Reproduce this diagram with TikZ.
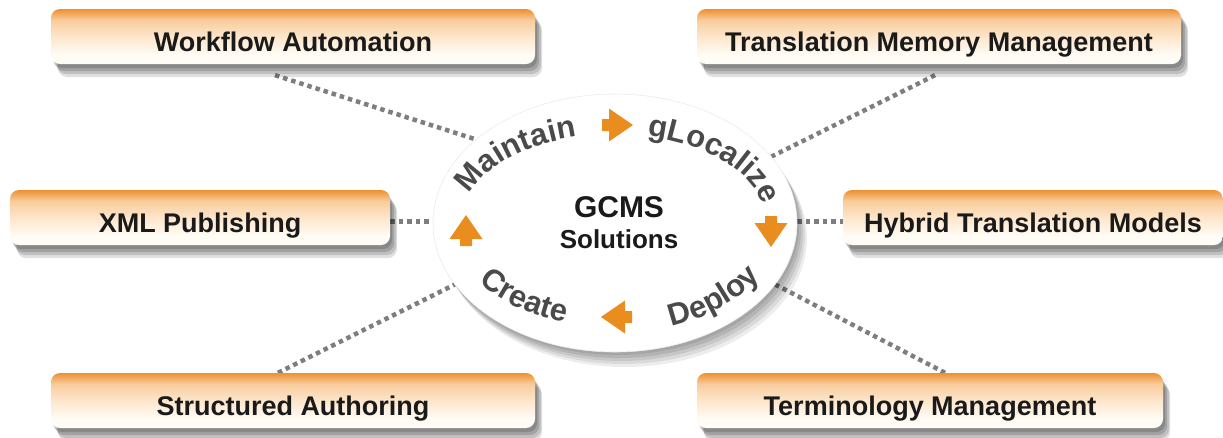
\documentclass[tikz,border=0pt]{standalone}
\usepackage{fontspec}
\setmainfont{Liberation Sans}
\usetikzlibrary{shapes.geometric,decorations.text,calc,shadows}
\definecolor{boxtop}{HTML}{EE9030}
\definecolor{boxlight}{HTML}{F8CC9C}
\definecolor{boxmid}{HTML}{FDE6CB}
\definecolor{boxbot}{HTML}{FFFCF6}
\definecolor{boxtext}{HTML}{1A1A1A}
\definecolor{arcgray}{HTML}{4A4A4A}
\definecolor{linegray}{HTML}{7E7E7E}
\definecolor{arroworange}{HTML}{EA8D1F}
\pgfdeclareverticalshading{boxshade}{100bp}{color(0bp)=(boxbot); color(25bp)=(boxbot); color(33bp)=(boxbot); color(50bp)=(boxmid); color(65bp)=(boxlight); color(75bp)=(boxtop); color(100bp)=(boxtop)}
\pgfdeclarelayer{bg}
\pgfsetlayers{bg,main}
\newcommand\arcfont{\fontsize{31}{33}\selectfont\bfseries}
\tikzset{
  gbox/.style={rounded corners=9pt, minimum height=55pt, shading=boxshade,
    font=\fontsize{27}{29}\selectfont\bfseries, text=boxtext, inner sep=0pt,
    text height=30pt, text depth=0pt,
    general shadow={fill=black, opacity=0.16, shadow xshift=2pt, shadow yshift=-4pt},
    general shadow={fill=black, opacity=0.16, shadow xshift=4pt, shadow yshift=-7pt},
    general shadow={fill=black, opacity=0.14, shadow xshift=6pt, shadow yshift=-10pt},
    general shadow={fill=black, opacity=0.12, shadow xshift=7pt, shadow yshift=-13pt}},
  dotline/.style={draw=linegray, line width=4.5pt, dash pattern=on 4.5pt off 4pt},
  hubstyle/.style={ellipse, minimum width=364pt, minimum height=258pt, fill=white, draw=black!8, line width=0.6pt,
    general shadow={fill=black, opacity=0.09, shadow xshift=2pt, shadow yshift=-3pt},
    general shadow={fill=black, opacity=0.09, shadow xshift=4pt, shadow yshift=-6pt},
    general shadow={fill=black, opacity=0.09, shadow xshift=6pt, shadow yshift=-9pt},
    general shadow={fill=black, opacity=0.08, shadow xshift=8pt, shadow yshift=-12pt},
    general shadow={fill=black, opacity=0.07, shadow xshift=10pt, shadow yshift=-15pt}},
  arctext/.style={decorate, decoration={text along path, text color=arcgray, text align=center, text={|\arcfont|#1}}},
  flowarrow/.pic={\fill[arroworange] (-15pt,-6pt) -- (-8pt,-6pt) -- (-8pt,-16.5pt) -- (16pt,0pt) -- (-8pt,16.5pt) -- (-8pt,6pt) -- (-15pt,6pt) -- cycle;}
}
\begin{document}
\begin{tikzpicture}[x=1pt,y=1pt]
\useasboundingbox (0,0) rectangle (1223,-437);
% boxes
\node[gbox, minimum width=484pt] (wf) at (293,-36.5) {Workflow Automation};
\node[gbox, minimum width=484pt] (tm) at (939,-36.5) {Translation Memory Management};
\node[gbox, minimum width=380pt] (xml) at (200,-217.5) {XML Publishing};
\node[gbox, minimum width=380pt] (hy) at (1033,-217.5) {Hybrid Translation Models};
\node[gbox, minimum width=484pt] (sa) at (293,-400.5) {Structured Authoring};
\node[gbox, minimum width=466pt] (term) at (930,-400.5) {Terminology Management};
% hub
\node[hubstyle] (hub) at (615,-223) {};
\node[font=\fontsize{30}{32}\selectfont\bfseries, text=boxtext] (gcms) at (619,-207) {GCMS};
\node[font=\fontsize{26}{28}\selectfont\bfseries, text=boxtext] (sol) at (619,-239) {Solutions};
% connectors
\begin{pgfonlayer}{bg}
\draw[dotline] ($(wf.south)+(-18,-11)$) -- (hub.149);
\draw[dotline] ($(tm.south)+(-4,-11)$) -- (hub.23);
\draw[dotline] ([yshift=-4pt]xml.east) -- ([yshift=-4pt]xml.east -| hub.west);
\draw[dotline] ([yshift=-4pt]hy.west -| hub.east) -- ([yshift=-4pt]hy.west);
\draw[dotline] ($(sa.north)+(-15,0)$) -- (hub.201);
\draw[dotline] ($(term.north)+(15,0)$) -- (hub.339);
\end{pgfonlayer}
% curved words
\coordinate (c) at (614,-222);
\path[arctext={Maintain}] ($(c)+(187:152pt and 88pt)$) arc[start angle=187, end angle=89, x radius=152pt, y radius=88pt];
\path[arctext={gLocalize}] ($(c)+(91:152pt and 88pt)$) arc[start angle=91, end angle=-12, x radius=152pt, y radius=88pt];
\path[arctext={Create}] ($(c)+(183:165pt and 105pt)$) arc[start angle=183, end angle=275, x radius=165pt, y radius=105pt];
\path[arctext={Deploy}] ($(c)+(268:168pt and 111pt)$) arc[start angle=268, end angle=362, x radius=168pt, y radius=111pt];
% arrows
\pic (a1) at (617,-125) {flowarrow};
\pic[rotate=-90] (a2) at (771,-231) {flowarrow};
\pic[rotate=180] (a3) at (617,-317) {flowarrow};
\pic[rotate=90] (a4) at (466,-231) {flowarrow};
\end{tikzpicture}
\end{document}
